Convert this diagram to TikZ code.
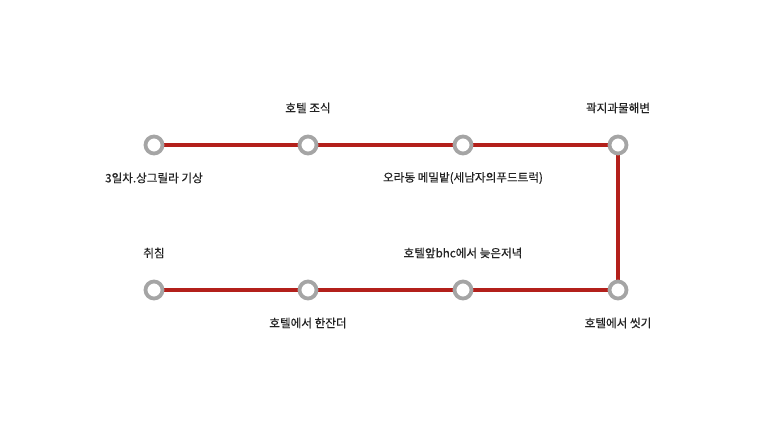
\documentclass[tikz,border=0pt]{standalone}
\usepackage{fontspec}
\setmainfont{Noto Sans CJK KR}
\newfontfamily\lblfont{Noto Sans CJK KR}[FakeBold=0.4]
\definecolor{routered}{HTML}{B3201B}
\definecolor{ringgray}{HTML}{A5A5A5}
\definecolor{labelgray}{HTML}{222222}
\tikzset{
  stop/.style={circle, draw=ringgray, line width=3.8pt, fill=white, minimum size=17pt, inner sep=0pt},
  route/.style={draw=routered, line width=3.6pt},
  lbl/.style={font=\lblfont\fontsize{11.6}{13}\selectfont, text=labelgray, inner sep=0pt}
}
\begin{document}
\begin{tikzpicture}[x=1pt,y=-1pt]
\useasboundingbox[fill=white] (0,0) rectangle (773,435);
% stops
\coordinate (p1) at (154,145);
\coordinate (p2) at (308,145);
\coordinate (p3) at (463,145);
\coordinate (p4) at (618,145);
\coordinate (p5) at (618,290);
\coordinate (p6) at (463,290);
\coordinate (p7) at (308,290);
\coordinate (p8) at (154,290);
\draw[route] (p1) -- (p2) -- (p3) -- (p4) -- (p5) -- (p6) -- (p7) -- (p8);
\foreach \i in {1,...,8} \node[stop] (s\i) at (p\i) {};
% labels
\node[lbl] (l1) at (154,178) {3일차.상그릴라 기상};
\node[lbl] (l2) at (308,108) {호텔 조식};
\node[lbl] (l3) at (463,178) {오라동 메밀밭(세남자의푸드트럭)};
\node[lbl] (l4) at (618,108) {곽지과물해변};
\node[lbl] (l5) at (618,323) {호텔에서 씻기};
\node[lbl] (l6) at (463,253) {호텔앞bhc에서 늦은저녁};
\node[lbl] (l7) at (308,323) {호텔에서 한잔더};
\node[lbl] (l8) at (154,253) {취침};
\end{tikzpicture}
\end{document}
